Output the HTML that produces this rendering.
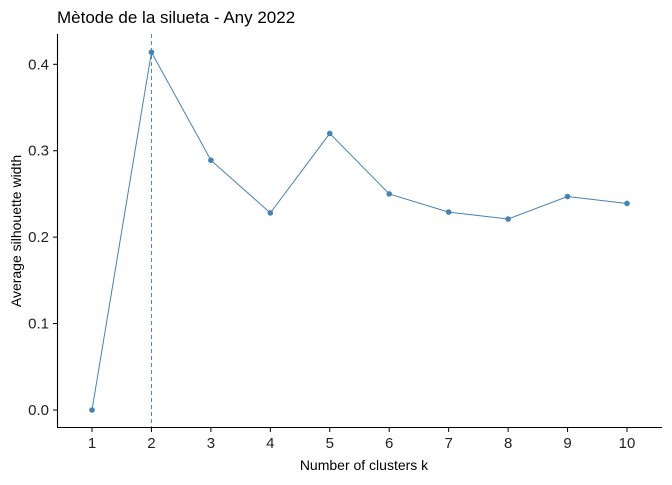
<!DOCTYPE html>
<html><head><meta charset="utf-8"><style>
body{margin:0;background:#fff}
svg text{font-family:"Liberation Sans",Arial,sans-serif}
</style></head><body>
<svg id="c" width="672" height="480">
<text x="57" y="23" font-size="17" fill="#000">Mètode de la silueta - Any 2022</text>
<line x1="57.5" y1="34" x2="57.5" y2="428" stroke="#000" stroke-width="1.1"/>
<line x1="57" y1="427.5" x2="662" y2="427.5" stroke="#000" stroke-width="1.1"/>
<text x="364" y="470" font-size="14" text-anchor="middle">Number of clusters k</text>
<text transform="translate(21,231) rotate(-90)" font-size="14" text-anchor="middle">Average silhouette width</text>
<g id="g"></g>
</svg>
<script>
const ks=[1,2,3,4,5,6,7,8,9,10];
const sil=[0,0.414,0.289,0.228,0.320,0.250,0.229,0.221,0.247,0.239];
const yTicks=[0,0.1,0.2,0.3,0.4];
const yLabels=["0.0","0.1","0.2","0.3","0.4"];
const optimalK=2;
const X=k=>92+(k-1)*(627-92)/9;
const Y=v=>410-v*(410-64.3)/0.4;
const g=document.getElementById('g');
const NS='http://www.w3.org/2000/svg';
function mk(t,a){const e=document.createElementNS(NS,t);for(const k in a)e.setAttribute(k,a[k]);g.appendChild(e);return e;}
yTicks.forEach((v,i)=>{
 let l=mk('line',{x1:53,x2:57,y1:Y(v),y2:Y(v),stroke:'#000'});
 
 
 let t=mk('text',{x:49,y:Y(v)+5,'font-size':15,'text-anchor':'end',fill:'#222'});t.textContent=yLabels[i];
 
 
});
ks.forEach(k=>{
 let l=mk('line',{x1:X(k),x2:X(k),y1:428,y2:432,stroke:'#000'});
 
 
 let t=mk('text',{x:X(k),y:448,'font-size':15,'text-anchor':'middle',fill:'#222'});t.textContent=k;
 
 
});
let vl=mk('line',{x1:X(optimalK),x2:X(optimalK),y1:34,y2:427,stroke:'#4682b4','stroke-dasharray':'4,3'});


let p=mk('polyline',{points:ks.map((k,i)=>X(k)+','+Y(sil[i])).join(' '),fill:'none',stroke:'#4682b4','stroke-width':1});


ks.forEach((k,i)=>{
 let c=mk('circle',{cx:X(k),cy:Y(sil[i]),r:2.8,fill:'#4682b4'});
 
 
});
</script>
</body></html>
